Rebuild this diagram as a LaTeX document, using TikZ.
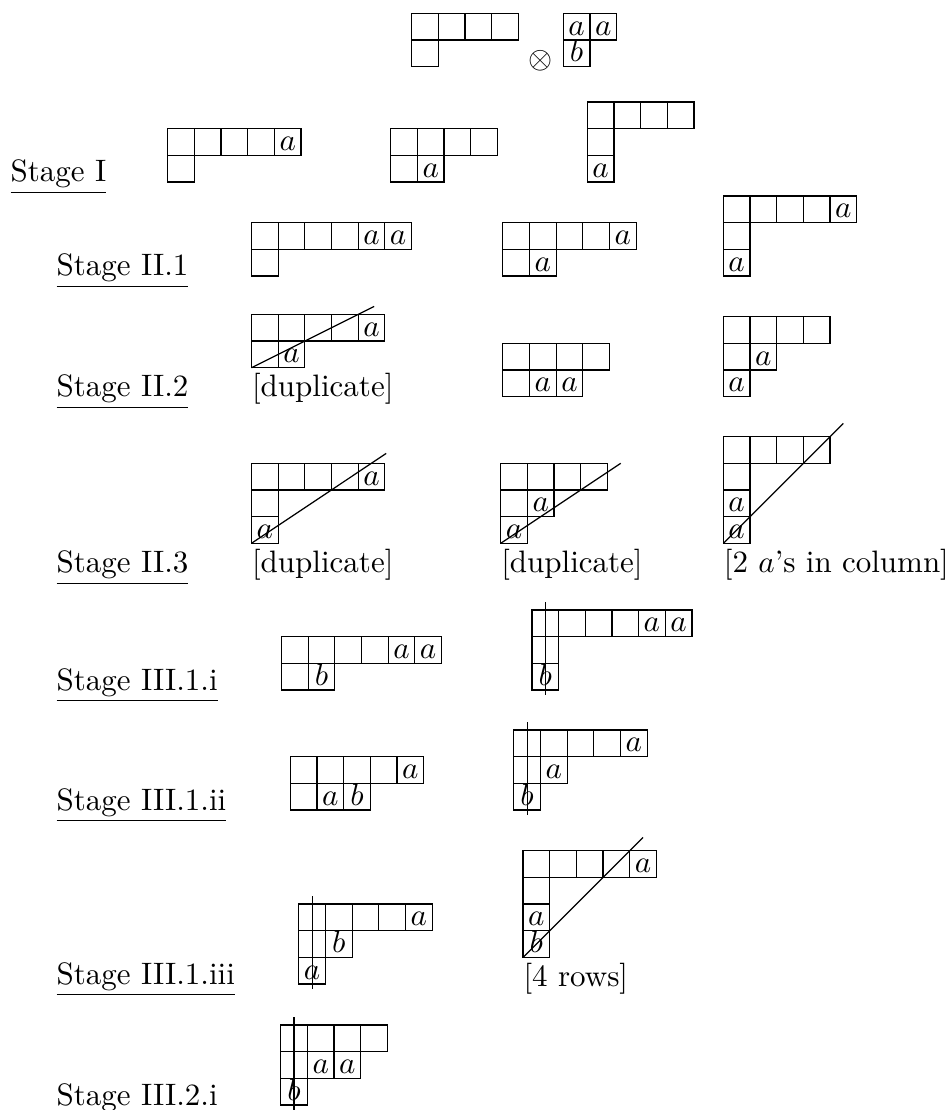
\documentclass[tikz,border=0pt]{standalone}
\usepackage{amsmath,amssymb}
\usepackage{tikz}
\usetikzlibrary{calc}

\def\cellsz{8.603pt}

\tikzset{
  youngCell/.style={draw=black, line width=0.4pt},
  youngEntry/.style={anchor=base, inner sep=0pt},
  strikeLine/.style={black, line width=0.4pt},
  stageLabel/.style={anchor=base west, inner sep=0pt},
  tabNote/.style={anchor=base west, inner sep=0pt}
}

% #1 name, #2 top-left corner, #3 row lengths, #4 entries row/col/letter,
% #5 extra strokes in cell units (origin at top-left corner)
\newcommand{\drawtableau}[5]{%
  \begin{scope}[shift={#2}, x=\cellsz, y=\cellsz]
    \coordinate (#1) at (0,0);
    \foreach \len [count=\rw] in {#3}
      \foreach \cl in {1,...,\len}
        \draw[youngCell] (\cl-1,1-\rw) rectangle (\cl,-\rw);
    \def\tabentries{#4}%
    \ifx\tabentries\empty\else
      \foreach \rw/\cl/\lab in {#4}
        \node[youngEntry] (#1-\rw\cl) at (\cl-0.5,0.18-\rw) {$\lab$};
    \fi
    #5
  \end{scope}}

\begin{document}
\begin{tikzpicture}[x=0.32258pt, y=-0.32258pt]
  \useasboundingbox (0,0) rectangle (949,1110);

  % the product
  \drawtableau{t0}{(411.7,13.3)}{4,1}{}{}
  \node (ot) at (540.7,61) {$\otimes$};
  \drawtableau{t0b}{(563.3,13.3)}{2,1}{1/1/a,1/2/a,2/1/b}{}

  % Stage I
  \node[stageLabel] (st1) at (10,182) {\underline{Stage I}};
  \drawtableau{t1a}{(167.7,128.7)}{5,1}{1/5/a}{}
  \drawtableau{t1b}{(390.7,128.7)}{4,2}{2/2/a}{}
  \drawtableau{t1c}{(587.3,102)}{4,1,1}{3/1/a}{}

  % Stage II.1
  \node[stageLabel] (st21) at (56,276) {\underline{Stage II.1}};
  \drawtableau{t21a}{(251.5,222.7)}{6,1}{1/5/a,1/6/a}{}
  \drawtableau{t21b}{(502.8,222.7)}{5,2}{1/5/a,2/2/a}{}
  \drawtableau{t21c}{(723.3,196)}{5,1,1}{1/5/a,3/1/a}{}

  % Stage II.2
  \node[stageLabel] (st22) at (56,396.7) {\underline{Stage II.2}};
  \drawtableau{t22a}{(251.5,314.4)}{5,2}{1/5/a,2/2/a}
    {\draw[strikeLine] (0,-2) -- (4.6,0.3);}
  \node[tabNote] (n22a) at (251.5,396.7) {[duplicate]};
  \drawtableau{t22b}{(502.8,343.4)}{4,3}{2/2/a,2/3/a}{}
  \drawtableau{t22c}{(723.3,316.7)}{4,2,1}{2/2/a,3/1/a}{}

  % Stage II.3
  \node[stageLabel] (st23) at (56,572.5) {\underline{Stage II.3}};
  \drawtableau{t23a}{(251.5,463.3)}{5,1,1}{1/5/a,3/1/a}
    {\draw[strikeLine] (0,-3) -- (5.05,0.37);}
  \node[tabNote] (n23a) at (251.5,572.5) {[duplicate]};
  \drawtableau{t23b}{(500.7,463.3)}{4,2,1}{2/2/a,3/1/a}
    {\draw[strikeLine] (0,-3) -- (4.5,0);}
  \node[tabNote] (n23b) at (500.7,572.5) {[duplicate]};
  \drawtableau{t23c}{(723.3,436.7)}{4,1,1,1}{3/1/a,4/1/a}
    {\draw[strikeLine] (0,-4) -- (4.5,0.5);}
  \node[tabNote] (n23c) at (723.3,572.5) {[2 $a$'s in column]};

  % Stage III.1.i
  \node[stageLabel] (st31i) at (56,690) {\underline{Stage III.1.i}};
  \drawtableau{t31ia}{(281.5,636.7)}{6,2}{1/5/a,1/6/a,2/2/b}{}
  \drawtableau{t31ib}{(531.9,610)}{6,1,1}{1/5/a,1/6/a,3/1/b}
    {\draw[strikeLine] (0.5,0.3) -- (0.5,-3.2);}

  % Stage III.1.ii
  \node[stageLabel] (st31ii) at (56,810) {\underline{Stage III.1.ii}};
  \drawtableau{t31iia}{(290.4,756.7)}{5,3}{1/5/a,2/2/a,2/3/b}{}
  \drawtableau{t31iib}{(513.8,730)}{5,2,1}{1/5/a,2/2/a,3/1/b}
    {\draw[strikeLine] (0.5,0.3) -- (0.5,-3.2);}

  % Stage III.1.iii
  \node[stageLabel] (st31iii) at (56,984) {\underline{Stage III.1.iii}};
  \drawtableau{t31iiia}{(298.8,904)}{5,2,1}{1/5/a,2/2/b,3/1/a}
    {\draw[strikeLine] (0.5,0.3) -- (0.5,-3.2);}
  \drawtableau{t31iiib}{(523,850.7)}{5,1,1,1}{1/5/a,3/1/a,4/1/b}
    {\draw[strikeLine] (0,-4) -- (4.5,0.5);}
  \node[tabNote] (n31iiib) at (523,986) {[4 rows]};

  % Stage III.2.i
  \node[stageLabel] (st32i) at (56,1105) {Stage III.2.i};
  \drawtableau{t32i}{(280.7,1025)}{4,3,1}{2/2/a,2/3/a,3/1/b}
    {\draw[strikeLine] (0.5,0.3) -- (0.5,-3.2);}
\end{tikzpicture}
\end{document}
